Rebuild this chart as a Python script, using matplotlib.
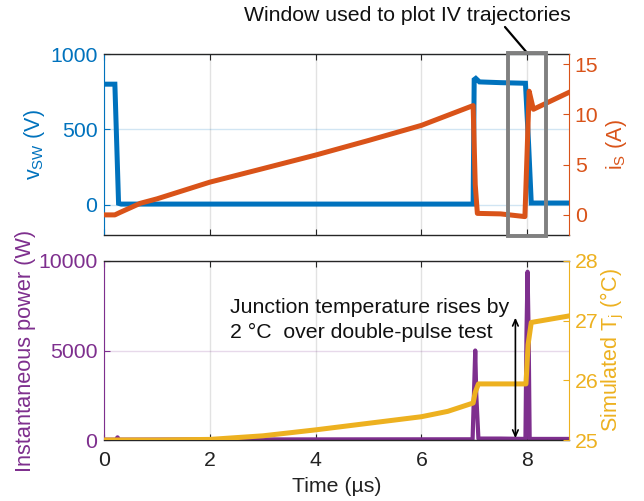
import matplotlib
matplotlib.use("Agg")
import matplotlib.pyplot as plt
from matplotlib.patches import Rectangle

plt.rcParams['font.family'] = ['Liberation Sans', 'DejaVu Sans']
plt.rcParams['mathtext.fontset'] = 'custom'
plt.rcParams['mathtext.rm'] = 'Liberation Sans'
plt.rcParams['mathtext.it'] = 'Liberation Sans'

# ---------------- data ----------------
t_v = [0, 0.20, 0.27, 0.32, 6.98, 7.00, 7.03, 7.10, 7.50, 7.97, 8.03, 8.08, 8.8]
v_sw = [800, 800, 10, 5, 5, 830, 838, 815, 810, 806, 400, 12, 12]

t_i = [0, 0.20, 0.30, 0.68, 1.0, 2.0, 3.0, 4.0, 5.0, 6.0, 6.98, 7.02, 7.06, 7.5, 7.96,
       8.0, 8.04, 8.12, 8.4, 8.8]
i_s = [0, 0, 0.25, 1.15, 1.6, 3.26, 4.6, 5.95, 7.4, 8.9, 10.87, 3.0, 0.15, 0.1, -0.17,
       6.0, 12.3, 10.5, 11.2, 12.2]

t_p = [0, 0.22, 0.25, 0.28, 2.0, 6.97, 7.00, 7.02, 7.04, 7.08, 7.5, 7.97, 7.99, 8.01,
       8.03, 8.05, 8.8]
p_inst = [20, 20, 150, 20, 30, 40, 3000, 5000, 2500, 80, 80, 60, 6000, 9400, 6000, 60,
          60]

t_T = [0, 1.0, 2.0, 3.0, 4.0, 5.0, 6.0, 6.5, 6.98, 7.02, 7.08, 7.98, 8.02, 8.08, 8.8]
T_j = [25.0, 25.0, 25.01, 25.07, 25.17, 25.28, 25.39, 25.48, 25.62, 25.80, 25.94, 25.94,
       26.60, 26.97, 27.08]

x_ticks = [0, 2, 4, 6, 8]
v_ticks = [0, 500, 1000]
i_ticks = [0, 5, 10, 15]
p_ticks = [0, 5000, 10000]
T_ticks = [25, 26, 27, 28]

window_t = [7.635, 8.354]
window_v = [-205, 1008]

arrow_t = 7.78
arrow_T = [25.03, 27.05]

# ---------------- style ----------------
BLUE = '#0072BD'
ORANGE = '#D95319'
PURPLE = '#7E2F8E'
YELLOW = '#EDB120'
DARK = '#262626'
FS = 15.3
FL = 15.5

fig = plt.figure(figsize=(6.44, 5.01), dpi=100)
W, H = 644, 501
def rect(l, t, r, b):
    return [l / W, 1 - b / H, (r - l) / W, (b - t) / H]

ax1 = fig.add_axes(rect(104.3, 54, 569.3, 235))
ax1r = ax1.twinx()
ax2 = fig.add_axes(rect(104.3, 261, 569.3, 440))
ax2r = ax2.twinx()

def style_pair(axl, axr, cl, cr, show_x):
    axl.set_xlim(0, 8.8)
    axl.set_xticks(x_ticks)
    for s in ['top', 'bottom']:
        axl.spines[s].set_color(DARK)
        axl.spines[s].set_linewidth(1.0)
    axl.spines['left'].set_color(cl)
    axl.spines['right'].set_visible(False)
    for s in ['top', 'bottom', 'left']:
        axr.spines[s].set_visible(False)
    axr.spines['right'].set_color(cr)
    axl.tick_params(axis='x', direction='in', length=4, top=True, bottom=True,
                    colors=DARK, labelsize=FS, pad=8, labelbottom=show_x,
                    labelcolor='#222222')
    axl.tick_params(axis='y', direction='in', length=4, colors=cl, labelsize=FS,
                    pad=5)
    axr.tick_params(axis='y', direction='in', length=4, colors=cr, labelsize=FS,
                    pad=4)
    axl.xaxis.grid(True, color=(0.15, 0.15, 0.15), alpha=0.13, lw=1.0)
    axl.yaxis.grid(True, color=cl, alpha=0.18, lw=1.0)
    axl.set_axisbelow(True)

style_pair(ax1, ax1r, BLUE, ORANGE, False)
style_pair(ax2, ax2r, PURPLE, YELLOW, True)

# top panel
ax1.plot(t_v, v_sw, color=BLUE, lw=3.6, solid_joinstyle='miter')
ax1.set_ylim(-200, 1000)
ax1.set_yticks(v_ticks)
ax1r.plot(t_i, i_s, color=ORANGE, lw=3.6)
ax1r.set_ylim(-2, 16)
ax1r.set_yticks(i_ticks)
ax1r.set_xlim(0, 8.8)

ax1.set_ylabel(r'v$_{\mathregular{SW}}$ (V)', color=BLUE, fontsize=FL)
ax1.yaxis.set_label_coords(-0.151, 0.5)
ax1r.set_ylabel(r'i$_{\mathregular{S}}$ (A)', color=ORANGE, fontsize=FL, rotation=90)
ax1r.yaxis.set_label_coords(1.102, 0.5)

win = Rectangle((window_t[0], window_v[0]), window_t[1] - window_t[0],
                window_v[1] - window_v[0], fill=False, edgecolor='#808080', lw=2.8,
                clip_on=False, zorder=10)
ax1r.add_patch(win)
win.set_transform(ax1.transData)

fig.text(407 / W, 1 - 20.7 / H, 'Window used to plot IV trajectories', ha='center',
         va='baseline', fontsize=FS, color='#111111')
ax1r.annotate('', xy=(8.0, window_v[1]), xycoords=ax1.transData,
              xytext=(505, H - 27), textcoords='figure pixels',
              arrowprops=dict(arrowstyle='-', color='black', lw=1.6,
                              shrinkA=0, shrinkB=0), annotation_clip=False)

# bottom panel
ax2.plot(t_p, p_inst, color=PURPLE, lw=3.0)
ax2.set_ylim(0, 10000)
ax2.set_yticks(p_ticks)
ax2r.plot(t_T, T_j, color=YELLOW, lw=3.6)
ax2r.set_ylim(25, 28)
ax2r.set_yticks(T_ticks)
ax2r.set_xlim(0, 8.8)

ax2.set_ylabel('Instantaneous power (W)', color=PURPLE, fontsize=15.7)
ax2.yaxis.set_label_coords(-0.17, 0.5)
ax2r.set_ylabel(r'Simulated T$_{\mathregular{j}}$ (°C)', color=YELLOW, fontsize=FL,
                rotation=90)
ax2r.yaxis.set_label_coords(1.093, 0.5)
ax2.set_xlabel('Time (µs)', fontsize=FS, color='#222222')
ax2.xaxis.set_label_coords(0.5, -0.262)
ax2.xaxis.label.set_va('center')

for a in (ax1, ax1r, ax2, ax2r):
    a.yaxis.label.set_va('center')

ax2r.annotate('', xy=(arrow_t, arrow_T[1]), xytext=(arrow_t, arrow_T[0]),
              arrowprops=dict(arrowstyle='<->,head_length=0.45,head_width=0.2',
                              color='black', lw=1.2, shrinkA=0, shrinkB=0))
fig.text(230 / W, 1 - 313.3 / H, 'Junction temperature rises by', ha='left',
         va='baseline', fontsize=FS, color='#111111')
fig.text(230 / W, 1 - 338.3 / H, '2 °C  over double-pulse test', ha='left',
         va='baseline', fontsize=FS, color='#111111')

fig.savefig('out.png', dpi=100)
